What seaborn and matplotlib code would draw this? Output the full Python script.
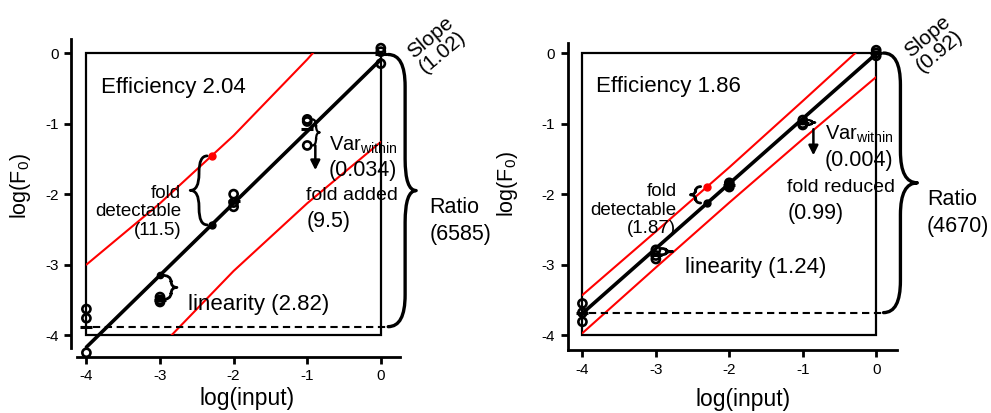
import numpy as np
import pandas as pd
import matplotlib
matplotlib.use("Agg")
import matplotlib.pyplot as plt
import seaborn as sns
from matplotlib.path import Path
from matplotlib.patches import PathPatch, Rectangle

# ---- shared input dilution series (log10 input) ----
inputs = [-4, -3, -2, -1, 0]

# ---- left assay ----
a_reps = [[-3.63, -3.76, -4.25],
          [-3.46, -3.50, -3.53],
          [-2.00, -2.12, -2.18],
          [-0.94, -0.97, -1.31],
          [0.07, 0.02, -0.15]]
a_slope, a_intercept = 1.02, -0.09
a_band_upper = [1.17, 1.02, 0.96, 1.02, 1.17]
a_band_lower = [1.17, 1.02, 0.96, 1.02, 1.17]
a_efficiency = "2.04"
a_fold_detectable = "11.5"
a_var_within = "0.034"
a_fold_word = "fold added"
a_fold_value = "9.5"
a_linearity = "2.82"
a_ratio = "6585"
a_slope_text = "1.02"

# ---- right assay ----
b_reps = [[-3.55, -3.68, -3.81],
          [-2.79, -2.87, -2.92],
          [-1.84, -1.87, -1.90],
          [-0.95, -1.00, -1.02],
          [0.04, 0.00, -0.04]]
b_slope, b_intercept = 0.92, -0.01
b_band_upper = [0.26, 0.24, 0.23, 0.25, 0.28]
b_band_lower = [0.28, 0.27, 0.27, 0.29, 0.33]
b_efficiency = "1.86"
b_fold_detectable = "1.87"
b_var_within = "0.004"
b_fold_word = "fold reduced"
b_fold_value = "0.99"
b_linearity = "1.24"
b_ratio = "4670"
b_slope_text = "0.92"

detect_x = -2.3

sns.set_theme(style="ticks")
plt.rcParams["font.family"] = ["Liberation Sans", "DejaVu Sans"]
plt.rcParams["mathtext.fontset"] = "custom"
plt.rcParams["mathtext.rm"] = "Liberation Sans"
plt.rcParams["mathtext.it"] = "Liberation Sans:italic"
plt.rcParams["mathtext.bf"] = "Liberation Sans:bold"
plt.rcParams["axes.unicode_minus"] = False
plt.rcParams["text.color"] = "black"
plt.rcParams["axes.labelcolor"] = "black"
plt.rcParams["xtick.color"] = "black"
plt.rcParams["ytick.color"] = "black"


def brace(ax, x_end, x_spine, x_tip, y_top, y_bot, r, lw):
    """Curly brace between y_top and y_bot; tip points toward x_tip."""
    ym = 0.5 * (y_top + y_bot)
    verts = [(x_end, y_top), (x_spine, y_top), (x_spine, y_top - r),
             (x_spine, ym + r),
             (x_spine, ym), (x_tip, ym),
             (x_spine, ym), (x_spine, ym - r),
             (x_spine, y_bot + r),
             (x_spine, y_bot), (x_end, y_bot)]
    codes = [Path.MOVETO, Path.CURVE3, Path.CURVE3,
             Path.LINETO,
             Path.CURVE3, Path.CURVE3,
             Path.CURVE3, Path.CURVE3,
             Path.LINETO,
             Path.CURVE3, Path.CURVE3]
    ax.add_patch(PathPatch(Path(verts, codes), fill=False, lw=lw,
                           ec="black", clip_on=False, capstyle="round",
                           joinstyle="round", zorder=6))


def panel(ax, reps, slope, intercept, up, lo, eff, fdet, varw, fword, fval,
          lin, ratio, slope_txt, lay):
    x = np.array(inputs, dtype=float)
    means = np.array([np.mean(r) for r in reps])
    fit = lambda v: slope * np.asarray(v) + intercept

    # square spanning the tested range
    box = Rectangle((-4, -4), 4, 4, fill=False, lw=1.6, ec="black", zorder=1)
    ax.add_patch(box)

    # prediction band around the standard curve
    for sign, w in ((1, up), (-1, lo)):
        sns.lineplot(x=x, y=fit(x) + sign * np.array(w), color="red",
                     lw=1.5, ax=ax, zorder=2)
        ax.lines[-1].set_clip_path(box)

    # standard curve
    sns.lineplot(x=[x[0], x[-1]], y=fit([x[0], x[-1]]), color="black",
                 lw=2.6, ax=ax, zorder=3)

    # detection floor = mean of the lowest dilution
    ax.plot([-4.07, 0.1], [means[0], means[0]], ls=(0, (3.5, 2.2)),
            color="black", lw=1.5, zorder=3)

    # replicate measurements and their means
    df = pd.DataFrame({"input": np.repeat(x, [len(r) for r in reps]),
                       "F0": np.concatenate(reps)})
    sns.scatterplot(data=df, x="input", y="F0", ax=ax, s=34,
                    facecolors="none", edgecolor="black", linewidth=1.9,
                    zorder=5)
    ax.plot(x, means, ls="none", marker="_", ms=9, mew=2.2, color="black",
            zorder=5)

    # fold-detectable pair
    fd_low = float(fit(detect_x))
    fd_high = fd_low + float(np.interp(detect_x, x, up))
    ax.plot([detect_x], [fd_high], "o", color="red", ms=5, zorder=6)
    ax.plot([detect_x], [fd_low], "o", color="black", ms=5, zorder=6)
    if lay["fit_dot"]:
        ax.plot([-3], [fit(-3)], "o", color="black", ms=4.5, zorder=6)

    # braces
    brace(ax, *lay["fd_brace"], fd_high, fd_low, 0.22 * (fd_high - fd_low) + 0.02, 2.0)
    rm = reps[3]
    brace(ax, *lay["var_brace"], max(rm), min(rm), 0.25 * (max(rm) - min(rm)) + 0.005, 1.6)
    lt, lb = float(fit(-3)), means[1]
    brace(ax, *lay["lin_brace"], max(lt, lb), min(lt, lb), 0.25 * abs(lt - lb) + 0.005, 2.0)
    brace(ax, 0.1, 0.33, lay["ratio_tip"], means[-1], means[0], 0.45, 2.4)

    ax.annotate("", xy=(lay["arrow_x"], lay["arrow_y"][1]),
                xytext=(lay["arrow_x"], lay["arrow_y"][0]),
                arrowprops=dict(arrowstyle="-|>", lw=1.8, color="black",
                                mutation_scale=14, shrinkA=0, shrinkB=0),
                zorder=6)

    # annotations
    ax.text(*lay["eff"], f"Efficiency {eff}", fontsize=16, va="baseline")
    ax.text(*lay["fdet"], f"fold\ndetectable\n({fdet})", fontsize=13.5,
            ha="right", va="center", multialignment="right", linespacing=1.12)
    vx, vy = lay["var"]
    ax.text(vx, vy, r"Var$_{\mathrm{within}}$", fontsize=14.5, va="baseline")
    ax.text(vx, vy - 0.37, f"({varw})", fontsize=15.5, va="baseline")
    fx, fy = lay["fold"]
    ax.text(fx, fy, fword, fontsize=14, va="baseline")
    ax.text(fx, fy - 0.38, f"({fval})", fontsize=15.5, va="baseline")
    ax.text(*lay["lin"], f"linearity ({lin})", fontsize=16, va="baseline")
    rx, ry = lay["ratio"]
    ax.text(rx, ry, "Ratio", fontsize=15.5, va="baseline")
    ax.text(rx, ry - 0.38, f"({ratio})", fontsize=15.5, va="baseline")
    ax.text(*lay["slope"], f"Slope\n({slope_txt})", fontsize=15, rotation=40,
            ha="center", va="center", rotation_mode="anchor",
            multialignment="center", linespacing=1.0)

    ax.set_xlim(*lay["xlim"])
    ax.set_ylim(*lay["ylim"])
    ax.set_xticks(inputs)
    ax.set_yticks(inputs)
    ax.set_xticklabels([str(v) for v in inputs])
    ax.set_yticklabels([str(v) for v in inputs])
    ax.tick_params(axis="both", length=5, width=2, labelsize=11, pad=4,
                   direction="out")
    ax.set_xlabel("log(input)", fontsize=16.5)
    ax.set_ylabel(r"log(F$_{\mathrm{0}}$)", fontsize=15.5)
    ax.xaxis.set_label_coords(*lay["xl"])
    ax.yaxis.set_label_coords(*lay["yl"])
    sns.despine(ax=ax)
    for s in ("left", "bottom"):
        ax.spines[s].set_linewidth(2)
        ax.spines[s].set_color("black")
    ax.spines["left"].set_bounds(*lay["lbounds"])
    ax.spines["bottom"].set_bounds(*lay["bbounds"])


fig = plt.figure(figsize=(9.91, 4.13), dpi=100)
axA = fig.add_axes([0.0716, 0.1356, 0.332, 0.770])
axB = fig.add_axes([0.5729, 0.1525, 0.332, 0.743])

layA = dict(xlim=(-4.21, 0.26), ylim=(-4.31, 0.2),
            lbounds=(-4.18, 0.2), bbounds=(-4.13, 0.26),
            xl=(0.536, -0.095), yl=(-0.115, 0.538),
            fit_dot=True,
            fd_brace=(-2.36, -2.47, -2.59), var_brace=(-0.93, -0.88, -0.83),
            lin_brace=(-2.98, -2.85, -2.77), ratio_tip=0.48,
            arrow_x=-0.89, arrow_y=(-1.31, -1.66),
            eff=(-3.80, -0.56), fdet=(-2.71, -2.25), var=(-0.71, -1.38),
            fold=(-1.01, -2.09), lin=(-2.62, -3.65), ratio=(0.66, -2.27),
            slope=(0.76, 0.12))
layB = dict(xlim=(-4.2, 0.28), ylim=(-4.21, 0.14),
            lbounds=(-4.21, 0.14), bbounds=(-4.2, 0.28),
            xl=(0.533, -0.125), yl=(-0.145, 0.54),
            fit_dot=False,
            fd_brace=(-2.39, -2.46, -2.53), var_brace=(-0.93, -0.88, -0.83),
            lin_brace=(-2.93, -2.86, -2.77), ratio_tip=0.56,
            arrow_x=-0.855, arrow_y=(-1.08, -1.45),
            eff=(-3.81, -0.55), fdet=(-2.72, -2.23), var=(-0.70, -1.23),
            fold=(-1.21, -1.97), lin=(-2.61, -3.12), ratio=(0.69, -2.16),
            slope=(0.78, 0.13))

panel(axA, a_reps, a_slope, a_intercept, a_band_upper, a_band_lower,
      a_efficiency, a_fold_detectable, a_var_within, a_fold_word, a_fold_value,
      a_linearity, a_ratio, a_slope_text, layA)
panel(axB, b_reps, b_slope, b_intercept, b_band_upper, b_band_lower,
      b_efficiency, b_fold_detectable, b_var_within, b_fold_word, b_fold_value,
      b_linearity, b_ratio, b_slope_text, layB)

fig.savefig("out.png", dpi=100)
